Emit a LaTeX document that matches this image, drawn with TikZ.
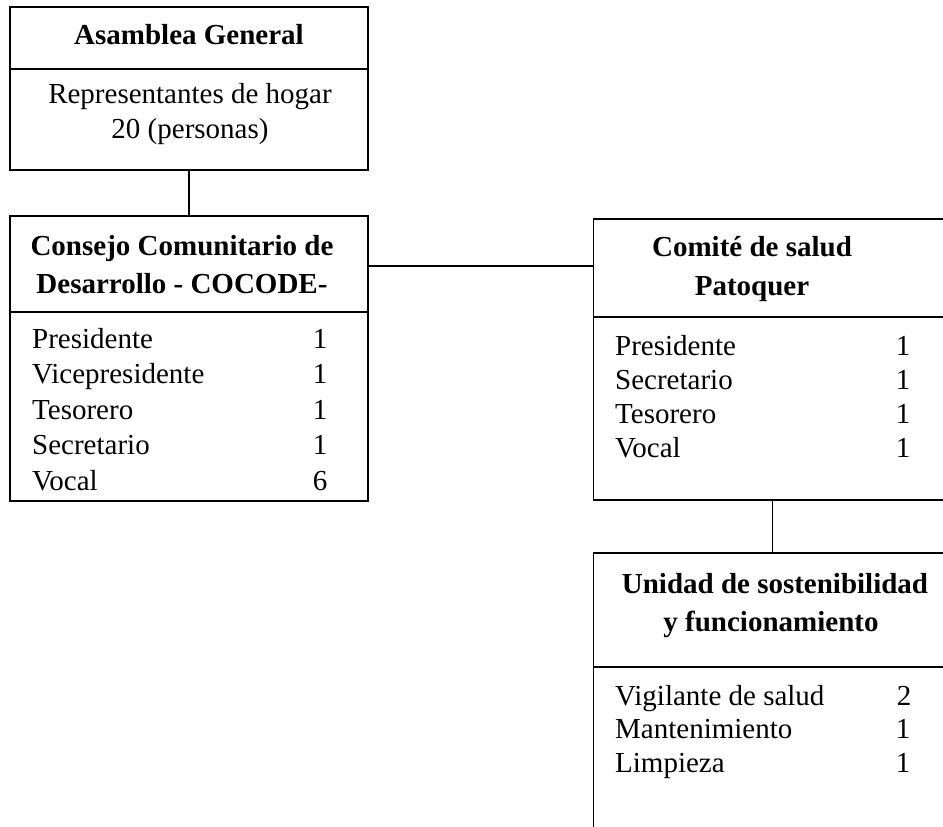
\documentclass[tikz,border=0pt]{standalone}
\usepackage{fontspec}
\setmainfont{Liberation Serif}
\begin{document}
\begin{tikzpicture}[x=1pt,y=-1pt,
  boxst/.style={draw=black, line width=1.6pt, rectangle, inner sep=0pt, outer sep=0pt, minimum width=358pt},
  conn/.style={draw=black, line width=1.3pt},
  divst/.style={draw=black, line width=1.6pt},
  head/.style={inner sep=0pt, anchor=base, font=\fontsize{29}{35}\selectfont\bfseries},
  txt/.style={inner sep=0pt, anchor=base, font=\fontsize{29}{35}\selectfont},
  lbl/.style={inner sep=0pt, anchor=base west, font=\fontsize{29}{35}\selectfont},
  num/.style={inner sep=0pt, anchor=base, font=\fontsize{29}{35}\selectfont}]
\clip (0,0) rectangle (943,827);
\fill[white] (0,0) rectangle (943,827);

% boxes
\node[boxst, minimum height=163pt] (ag) at (189,88.5) {};
\node[boxst, minimum height=285pt] (cc) at (189,358.5) {};
\node[boxst, minimum height=281pt] (cs) at (772.5,359.5) {};
\node[boxst, minimum height=330pt] (us) at (772.5,718) {};

% dividers
\draw[divst] (ag.west |- 0,69) -- (ag.east |- 0,69);
\draw[divst] (cc.west |- 0,312) -- (cc.east |- 0,312);
\draw[divst] (cs.west |- 0,317) -- (cs.east |- 0,317);
\draw[divst] (us.west |- 0,667) -- (us.east |- 0,667);

% connectors
\coordinate (hj) at (0,266);
\draw[conn] (ag.south) -- (cc.north);
\draw[conn] (cc.east |- hj) -- (cs.west |- hj);
\draw[conn] (cs.south) -- (us.north);

% Asamblea General
\node[head] (agh) at (189,45) {Asamblea General};
\node[txt] (ag1) at (190,103) {Representantes de hogar};
\node[txt] (ag2) at (190,138) {20 (personas)};

% COCODE
\node[head] (cch1) at (182,255) {Consejo Comunitario de};
\node[head] (cch2) at (182,293) {Desarrollo - COCODE-};
\node[lbl] (cc1) at (32,348) {Presidente};
\node[lbl] (cc2) at (32,383.5) {Vicepresidente};
\node[lbl] (cc3) at (32,419) {Tesorero};
\node[lbl] (cc4) at (32,454.5) {Secretario};
\node[lbl] (cc5) at (32,490) {Vocal};
\node[num] (ccn1) at (320,348) {1};
\node[num] (ccn2) at (320,383.5) {1};
\node[num] (ccn3) at (320,419) {1};
\node[num] (ccn4) at (320,454.5) {1};
\node[num] (ccn5) at (320,490) {6};

% Comite de salud
\node[head] (csh1) at (752,256) {Comité de salud};
\node[head] (csh2) at (752,295) {Patoquer};
\node[lbl] (cs1) at (615,355) {Presidente};
\node[lbl] (cs2) at (615,389) {Secretario};
\node[lbl] (cs3) at (615,423) {Tesorero};
\node[lbl] (cs4) at (615,457) {Vocal};
\node[num] (csn1) at (903,355) {1};
\node[num] (csn2) at (903,389) {1};
\node[num] (csn3) at (903,423) {1};
\node[num] (csn4) at (903,457) {1};

% Unidad
\node[head] (ush1) at (775,593) {Unidad de sostenibilidad};
\node[head] (ush2) at (771,631) {y funcionamiento};
\node[lbl] (us1) at (615,705) {Vigilante de salud};
\node[lbl] (us2) at (615,738.5) {Mantenimiento};
\node[lbl] (us3) at (615,772) {Limpieza};
\node[num] (usn1) at (904,705) {2};
\node[num] (usn2) at (903,738.5) {1};
\node[num] (usn3) at (903,772) {1};
\end{tikzpicture}
\end{document}
